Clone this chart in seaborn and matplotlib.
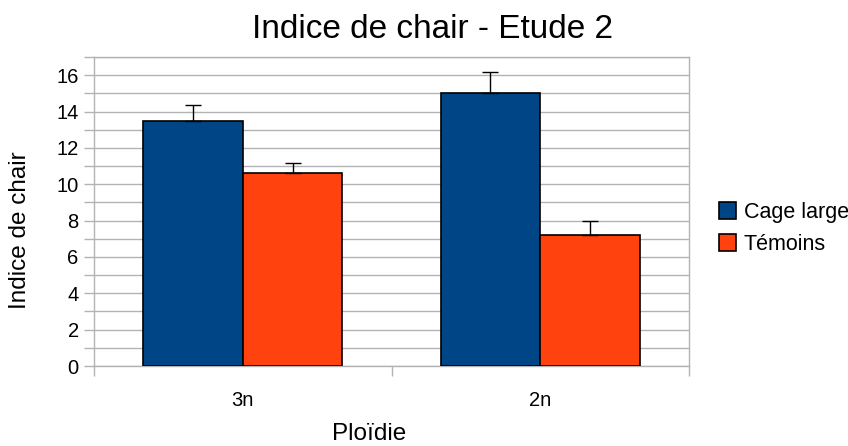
import matplotlib
matplotlib.use("Agg")
import matplotlib.pyplot as plt
import seaborn as sns
import pandas as pd
from matplotlib.ticker import FixedLocator

# ---- data ----
categories = ["3n", "2n"]
groups = ["Cage large", "Témoins"]
cage_large = [13.5, 15.0]
temoins = [10.6, 7.2]
cage_large_err = [0.85, 1.2]
temoins_err = [0.55, 0.78]
title = "Indice de chair - Etude 2"
xlabel = "Ploïdie"
ylabel = "Indice de chair"

colors = ["#004586", "#ff420e"]
grid_c = "#b3b3b3"

df = pd.DataFrame({
    "Ploïdie": categories * 2,
    "valeur": cage_large + temoins,
    "groupe": [groups[0]] * len(categories) + [groups[1]] * len(categories),
})

sns.set_theme(style="white")
plt.rcParams["font.family"] = ["Liberation Sans", "DejaVu Sans"]
plt.rcParams["text.color"] = "black"

fig = plt.figure(figsize=(8.48, 4.46), dpi=100)
ax = fig.add_axes([94 / 848, 1 - 366 / 446, (689 - 94) / 848, (366 - 57) / 446])

sns.barplot(data=df, x="Ploïdie", y="valeur", hue="groupe", order=categories,
            hue_order=groups, palette=colors, width=0.67, errorbar=None,
            edgecolor="black", linewidth=1.2, saturation=1, ax=ax, zorder=3)

# error bars (upper only)
errs = [cage_large_err, temoins_err]
for cont, err in zip(ax.containers, errs):
    xs = [b.get_x() + b.get_width() / 2 for b in cont]
    ys = [b.get_height() for b in cont]
    ax.errorbar(xs, ys, yerr=[[0] * len(err), err], fmt="none", ecolor="black",
                elinewidth=1, capsize=6, capthick=1, zorder=4)

ax.set_xlim(-0.5, 1.5)
ax.set_ylim(0, 17)

ax.yaxis.set_major_locator(FixedLocator(list(range(0, 17, 2))))
ax.yaxis.set_minor_locator(FixedLocator(list(range(1, 18, 2))))
ax.grid(True, which="both", axis="y", color=grid_c, linewidth=1, zorder=0)
ax.set_axisbelow(True)
ax.tick_params(axis="y", which="both", direction="out", length=7, width=1,
               color=grid_c, left=True, pad=4, labelsize=14.5, labelcolor="black")

ax.xaxis.set_minor_locator(FixedLocator([-0.5, 0.5, 1.5]))
ax.tick_params(axis="x", which="major", length=0, pad=18, labelsize=14.5, labelcolor="black")
ax.tick_params(axis="x", which="minor", direction="out", length=7, width=1,
               color=grid_c, bottom=True)

for s in ax.spines.values():
    s.set_visible(True)
    s.set_color(grid_c)
    s.set_linewidth(1)

ax.set_xlabel(xlabel, fontsize=17.5, color="black")
ax.set_ylabel(ylabel, fontsize=17.5, color="black")
ax.xaxis.set_label_coords((369 - 94) / 595, -(434 - 366) / 309)
ax.yaxis.set_label_coords((20 - 94) / 595, (366 - 230) / 309)
ax.xaxis.label.set_va("center")
ax.yaxis.label.set_va("center")

fig.text(433 / 848, 1 - 30 / 446, title, ha="center", va="center", fontsize=24, color="black")

handles, labels = ax.get_legend_handles_labels()
ax.legend(handles, labels, loc="upper left", bbox_to_anchor=(719 / 848, 1 - 202 / 446),
          bbox_transform=fig.transFigure, frameon=False, fontsize=15.5,
          handlelength=0.8, handleheight=0.8, handletextpad=0.35,
          labelspacing=0.5, borderpad=0, borderaxespad=0, labelcolor="black")

fig.savefig("out.png", dpi=100, facecolor="white")
